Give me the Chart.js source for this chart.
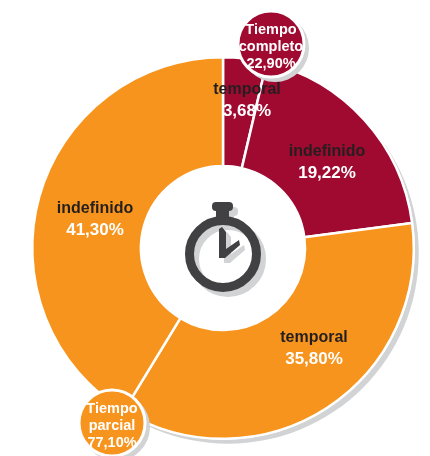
<!DOCTYPE html>
<html>
<head>
<meta charset="utf-8">
<title>Tiempo completo y parcial</title>
<script src="https://cdn.jsdelivr.net/npm/chart.js@4"></script>
<style>
    html, body { margin: 0; padding: 0; background: #fff; }
    canvas { display: block; }
</style>
</head>
<body>
<canvas id="timeChart" width="430" height="456"></canvas>
<script>
var categories = ["temporal", "indefinido", "temporal", "indefinido"];
var values = [3.68, 19.22, 35.80, 41.30];
var valueLabels = ["3,68%", "19,22%", "35,80%", "41,30%"];
var sliceColors = ["#a00a30", "#a00a30", "#f7941d", "#f7941d"];

var groupNames = [["Tiempo", "completo"], ["Tiempo", "parcial"]];
var groupValueLabels = ["22,90%", "77,10%"];
var groupColors = ["#a00a30", "#f7941d"];

var shadowColor = "#d1d3d4";
var iconColor = "#414042";
var labelFont = "bold 16px 'Liberation Sans', Arial, sans-serif";
var valueFont = "bold 17px 'Liberation Sans', Arial, sans-serif";
var bubbleFont = "bold 14.5px 'Liberation Sans', Arial, sans-serif";

// label and bubble positions relative to the centre of the ring
var labelOffsets = [[24, -148], [104, -86], [91, 100], [-128, -29]];
var bubbleOffsets = [[48, -204], [-111, 175]];
var bubbleRadius = 33;

function drawWatch(ctx, x, y, color) {
    ctx.fillStyle = color;
    ctx.strokeStyle = color;

    ctx.lineWidth = 9;
    ctx.beginPath();
    ctx.arc(x, y + 6, 33.5, 0, Math.PI * 2);
    ctx.stroke();

    // stem and cap
    ctx.fillRect(x - 7, y - 38, 13, 10);
    ctx.beginPath();
    ctx.roundRect(x - 11, y - 46, 21, 9, 4);
    ctx.fill();

    // hands
    ctx.beginPath();
    ctx.moveTo(x - 4, y - 19);
    ctx.lineTo(x - 1, y - 21);
    ctx.lineTo(x + 3, y - 16);
    ctx.lineTo(x + 3, y + 1);
    ctx.lineTo(x + 16, y - 8);
    ctx.lineTo(x + 17, y - 3);
    ctx.lineTo(x + 2, y + 10);
    ctx.lineTo(x - 4, y + 10);
    ctx.closePath();
    ctx.fill();
}

var ringShadow = {
    id: "ringShadow",
    beforeDatasetsDraw: function (chart) {
        var arc = chart.getDatasetMeta(0).data[0];
        var ctx = chart.ctx;
        ctx.save();
        ctx.fillStyle = shadowColor;
        ctx.beginPath();
        ctx.arc(arc.x + 5, arc.y + 5, arc.outerRadius, 0, Math.PI * 2);
        ctx.fill();
        ctx.fillStyle = "#fff";
        ctx.beginPath();
        ctx.arc(arc.x, arc.y, arc.outerRadius + 1, 0, Math.PI * 2);
        ctx.fill();
        ctx.restore();
    }
};

var ringLabels = {
    id: "ringLabels",
    afterDatasetsDraw: function (chart) {
        var arcs = chart.getDatasetMeta(0).data;
        var ctx = chart.ctx;
        var cx = arcs[0].x;
        var cy = arcs[0].y;
        ctx.save();
        ctx.textAlign = "center";
        ctx.textBaseline = "middle";

        // centre icon
        drawWatch(ctx, cx + 5, cy + 5, shadowColor);
        drawWatch(ctx, cx, cy, iconColor);

        // slice labels
        categories.forEach(function (name, i) {
            var x = cx + labelOffsets[i][0];
            var y = cy + labelOffsets[i][1];
            ctx.font = labelFont;
            ctx.fillStyle = "#231f20";
            ctx.fillText(name, x, y - 10);
            ctx.font = valueFont;
            ctx.fillStyle = "#fff";
            ctx.fillText(valueLabels[i], x, y + 11);
        });

        // total bubbles
        groupNames.forEach(function (lines, i) {
            var x = cx + bubbleOffsets[i][0];
            var y = cy + bubbleOffsets[i][1];

            ctx.fillStyle = shadowColor;
            ctx.beginPath();
            ctx.arc(x + 4, y + 4, bubbleRadius + 1, 0, Math.PI * 2);
            ctx.fill();

            ctx.fillStyle = groupColors[i];
            ctx.strokeStyle = "#fff";
            ctx.lineWidth = 3;
            ctx.beginPath();
            ctx.arc(x, y, bubbleRadius, 0, Math.PI * 2);
            ctx.fill();
            ctx.stroke();

            ctx.fillStyle = "#fff";
            ctx.font = bubbleFont;
            ctx.fillText(lines[0], x, y - 14);
            ctx.fillText(lines[1], x, y + 3);
            ctx.fillText(groupValueLabels[i], x, y + 20);
        });
        ctx.restore();
    }
};

new Chart(document.getElementById("timeChart"), {
    type: "doughnut",
    data: {
        labels: categories,
        datasets: [{
            data: values,
            backgroundColor: sliceColors,
            borderColor: "#fff",
            borderWidth: 2.5
        }]
    },
    options: {
        responsive: false,
        animation: false,
        cutout: "43%",
        layout: { padding: { left: 30, right: 14, top: 56, bottom: 16 } },
        plugins: {
            legend: { display: false },
            tooltip: { enabled: false }
        }
    },
    plugins: [ringShadow, ringLabels]
});
</script>
</body>
</html>
